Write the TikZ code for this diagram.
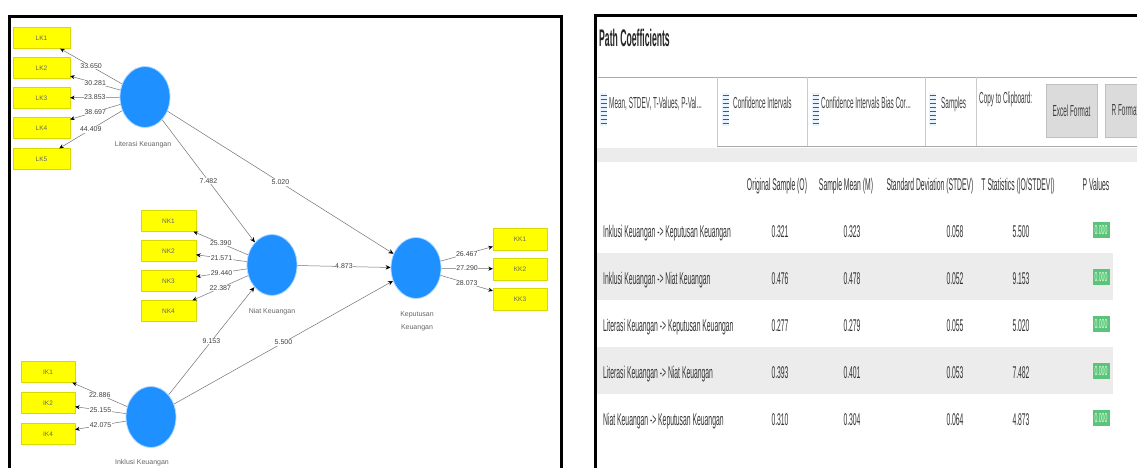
\documentclass[tikz,border=0pt]{standalone}
\usepackage{fontspec}
\setmainfont{Liberation Sans}
\usepackage{graphicx}
\usetikzlibrary{shapes.geometric,arrows.meta}
\definecolor{plsblue}{RGB}{30,144,255}
\definecolor{plsyellow}{RGB}{255,255,0}
\definecolor{pgreen}{RGB}{92,196,122}
\definecolor{bandgray}{RGB}{236,236,236}
\definecolor{tabline}{RGB}{170,170,170}
\newcommand{\myfs}[1]{\fontsize{#1}{#1}\selectfont}
\newcommand{\nsq}[1]{\scalebox{0.4}[1]{#1}}
\begin{document}
\begin{tikzpicture}[x=1pt,y=-1pt,
  lat/.style={ellipse, fill=plsblue, draw=plsblue!35, line width=0.8pt, minimum width=50pt, minimum height=61pt, inner sep=0pt},
  ind/.style={rectangle, fill=plsyellow, draw=plsyellow!85!black, line width=0.3pt, minimum width=55pt, minimum height=21pt, inner sep=0pt, font=\myfs{6.5}, text=black!60},
  latname/.style={font=\fontsize{7}{13}\selectfont, text=black!60, align=center, inner sep=0pt},
  wt/.style={fill=white, inner sep=0.6pt, font=\myfs{7}, text=black!75},
  refl/.style={draw=black!55, line width=0.5pt, -{Stealth[length=4.5pt,width=4pt,color=black]}},
  strc/.style={draw=black!55, line width=0.5pt, -{Stealth[length=5pt,width=4.5pt,color=black]}},
  panelframe/.style={line width=3pt, draw=black},
  rt/.style={font=\myfs{17}, text=black!80, inner sep=0pt, anchor=base},
  rtab/.style={font=\myfs{16}, text=black!75, inner sep=0pt, anchor=base west},
  btn/.style={fill=black!14, draw=black!25, line width=0.6pt, font=\myfs{16}, text=black!75, inner sep=0pt, minimum height=53pt},
  pbox/.style={fill=pgreen, minimum width=17pt, minimum height=16pt, inner sep=0pt, font=\myfs{13}, text=green!12!white},
  tl/.style={draw=tabline, line width=0.8pt}
]
\useasboundingbox (0,0) rectangle (1137,468);
\clip (0,0) rectangle (1137,468);
\fill[white] (0,0) rectangle (1137,468);

% ---------------- left panel ----------------
\draw[panelframe] (9,475) -- (9,17) -- (561,17) -- (561,475);

\node[lat] (LT) at (145,97) {};
\node[lat] (NT) at (272,265) {};
\node[lat] (KP) at (416,268) {};
\node[lat] (IN) at (151,417) {};

\node[latname] (LTn) at (143,145) {Literasi Keuangan};
\node[latname] (NTn) at (272,312) {Niat Keuangan};
\node[latname] (KPn) at (417,321) {Keputusan\\Keuangan};
\node[latname] (INn) at (142,463) {Inklusi Keuangan};

\foreach \i/\y in {1/38,2/68,3/98,4/128,5/159}
  \node[ind, minimum width=57pt] (LK\i) at (41.5,\y) {LK\i};
\foreach \i/\y in {1/221,2/251,3/281,4/311}
  \node[ind] (NK\i) at (168.5,\y) {NK\i};
\foreach \i/\y in {1/239,2/269,3/299}
  \node[ind, minimum width=54pt, minimum height=22pt] (KK\i) at (520,\y) {KK\i};
\node[ind, minimum width=54pt] (IK1) at (48,372) {IK1};
\node[ind, minimum width=54pt] (IK2) at (48,403) {IK2};
\node[ind, minimum width=54pt] (IK4) at (48,434) {IK4};

\draw[refl] (LT) -- node[wt]{33.650} (LK1);
\draw[refl] (LT) -- node[wt]{30.281} (LK2);
\draw[refl] (LT) -- node[wt]{23.853} (LK3);
\draw[refl] (LT) -- node[wt]{38.697} (LK4);
\draw[refl] (LT) -- node[wt]{44.409} (LK5);

\draw[refl] (NT) -- node[wt]{25.390} (NK1);
\draw[refl] (NT) -- node[wt]{21.571} (NK2);
\draw[refl] (NT) -- node[wt]{29.440} (NK3);
\draw[refl] (NT) -- node[wt]{22.387} (NK4);

\draw[refl] (KP) -- node[wt]{26.467} (KK1);
\draw[refl] (KP) -- node[wt]{27.290} (KK2);
\draw[refl] (KP) -- node[wt]{28.073} (KK3);

\draw[refl] (IN) -- node[wt]{22.886} (IK1);
\draw[refl] (IN) -- node[wt]{25.155} (IK2);
\draw[refl] (IN) -- node[wt]{42.075} (IK4);

\draw[strc] (LT) -- node[wt]{7.482} (NT);
\draw[strc] (LT) -- node[wt]{5.020} (KP);
\draw[strc] (NT) -- node[wt]{4.873} (KP);
\draw[strc] (IN) -- node[wt]{9.153} (NT);
\draw[strc] (IN) -- node[wt]{5.500} (KP);

% ---------------- right panel ----------------
\fill[bandgray] (597,148) rectangle (1140,162);
\fill[bandgray] (597,253) rectangle (1113,300);
\fill[bandgray] (597,347) rectangle (1113,394);

\draw[panelframe] (595,475) -- (595,15.5) -- (1140,15.5);

\node[anchor=base west, font=\bfseries\myfs{24}, text=black!85, inner sep=0pt] (title) at (599,47) {\scalebox{0.36}[1]{Path Coefficients}};

% tab bar
\draw[tl] (598,77.5) -- (1140,77.5);
\draw[tl] (717,146) -- (1140,146);
\foreach \x in {717,807,925,976} \draw[tl, draw=tabline!60] (\x,77.5) -- (\x,146);
\foreach \x in {600,722,812,929} {
  \fill[plsblue!10] (\x,93) rectangle (\x+7,126);
  \foreach \yy in {95,99,...,123} \draw[plsblue!70!black, line width=0.8pt] (\x+0.5,\yy) -- (\x+6.5,\yy);
}
\node[rtab] (tab1) at (609,109) {\nsq{Mean, STDEV, T-Values, P-Val...}};
\node[rtab] (tab2) at (733,109) {\nsq{Confidence Intervals}};
\node[rtab] (tab3) at (821,109) {\nsq{Confidence Intervals Bias Cor...}};
\node[rtab] (tab4) at (941,109) {\nsq{Samples}};
\node[rtab] (copy) at (979,104) {\nsq{Copy to Clipboard:}};
\node[btn, minimum width=51pt] (excel) at (1071.5,110.5) {\nsq{Excel Format}};
\node[btn, minimum width=40pt] (rfmt) at (1125,110.5) {\nsq{R Format}};

% header
\node[rt] (h1) at (777,190) {\nsq{Original Sample (O)}};
\node[rt] (h2) at (846,190) {\nsq{Sample Mean (M)}};
\node[rt] (h3) at (930,190) {\nsq{Standard Deviation (STDEV)}};
\node[rt] (h4) at (1018,190) {\nsq{T Statistics (|O/STDEV|)}};
\node[rt] (h5) at (1096,190) {\nsq{P Values}};

% rows
\foreach \i/\y/\lab/\a/\b/\c/\d in {
  1/237/{Inklusi Keuangan -> Keputusan Keuangan}/0.321/0.323/0.058/5.500,
  2/284/{Inklusi Keuangan -> Niat Keuangan}/0.476/0.478/0.052/9.153,
  3/331/{Literasi Keuangan -> Keputusan Keuangan}/0.277/0.279/0.055/5.020,
  4/378/{Literasi Keuangan -> Niat Keuangan}/0.393/0.401/0.053/7.482,
  5/425/{Niat Keuangan -> Keputusan Keuangan}/0.310/0.304/0.064/4.873} {
  \node[rt, anchor=base west] (row\i) at (603,\y) {\nsq{\lab}};
  \node[rt] (o\i) at (780,\y) {\nsq{\a}};
  \node[rt] (m\i) at (852,\y) {\nsq{\b}};
  \node[rt] (s\i) at (955,\y) {\nsq{\c}};
  \node[rt] (t\i) at (1021,\y) {\nsq{\d}};
  \node[pbox] (p\i) at (1101,\y-7) {\nsq{0.000}};
}
\end{tikzpicture}
\end{document}
